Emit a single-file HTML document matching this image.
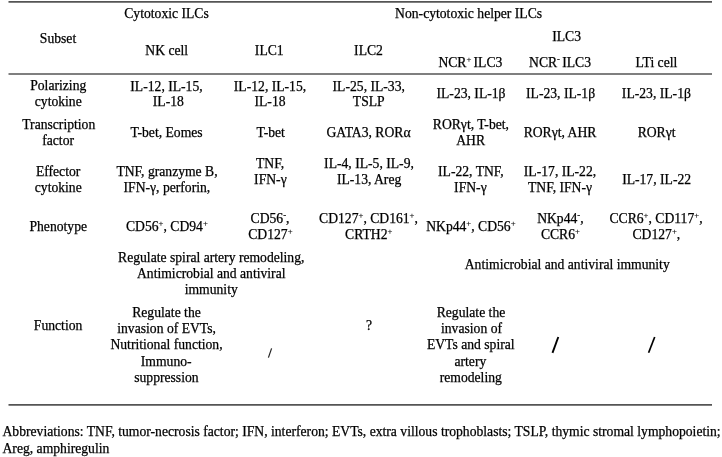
<!DOCTYPE html>
<html><head><meta charset="utf-8"><title>Table</title>
<style>
html,body{margin:0;padding:0;background:#fff;}
body{width:722px;height:457px;position:relative;overflow:hidden;font-family:"Liberation Serif",serif;font-size:13.65px;line-height:16px;color:#000;-webkit-text-stroke:0.25px #000;}
.t{position:absolute;white-space:nowrap;transform:translateX(-50%);}
.l{position:absolute;white-space:nowrap;}
.r{position:absolute;left:9px;width:703px;height:2px;background:#707070;}
sup{font-size:8.7px;line-height:0;vertical-align:baseline;position:relative;top:-5px;-webkit-text-stroke:0.15px #000;color:#000;}
#w{position:absolute;left:0;top:0;width:722px;height:457px;will-change:transform;filter:blur(0.35px);}
</style></head><body><div id="w">

<div class="t" style="left:58.00px;top:31px">Subset</div>
<div class="t" style="left:166.50px;top:6px">Cytotoxic ILCs</div>
<div class="t" style="left:166.75px;top:43px">NK cell</div>
<div class="t" style="left:269.25px;top:43px">ILC1</div>
<div class="t" style="left:368.50px;top:43px">ILC2</div>
<div class="t" style="left:468.60px;top:6px">Non-cytotoxic helper ILCs</div>
<div class="t" style="left:566.60px;top:29px">ILC3</div>
<div class="t" style="left:470.40px;top:55px">NCR<sup>+ </sup>ILC3</div>
<div class="t" style="left:560.00px;top:55px">NCR<sup>- </sup>ILC3</div>
<div class="t" style="left:656.40px;top:55px">LTi cell</div>
<div class="t" style="left:58.25px;top:78px">Polarizing</div>
<div class="t" style="left:58.25px;top:94px">cytokine</div>
<div class="t" style="left:166.50px;top:79px">IL-12, IL-15,</div>
<div class="t" style="left:168.30px;top:94px">IL-18</div>
<div class="t" style="left:270.00px;top:79px">IL-12, IL-15,</div>
<div class="t" style="left:270.00px;top:94px">IL-18</div>
<div class="t" style="left:368.75px;top:79px">IL-25, IL-33,</div>
<div class="t" style="left:368.75px;top:94px">TSLP</div>
<div class="t" style="left:471.00px;top:86px">IL-23, IL-1β</div>
<div class="t" style="left:560.60px;top:86px">IL-23, IL-1β</div>
<div class="t" style="left:656.40px;top:86px">IL-23, IL-1β</div>
<div class="t" style="left:58.75px;top:117px">Transcription</div>
<div class="t" style="left:58.10px;top:133px">factor</div>
<div class="t" style="left:166.50px;top:125px">T-bet, Eomes</div>
<div class="t" style="left:270.75px;top:125px">T-bet</div>
<div class="t" style="left:368.50px;top:125px">GATA3, RORα</div>
<div class="t" style="left:470.90px;top:117px">RORγt, T-bet,</div>
<div class="t" style="left:470.60px;top:133px">AHR</div>
<div class="t" style="left:560.00px;top:125px">RORγt, AHR</div>
<div class="t" style="left:656.60px;top:125px">RORγt</div>
<div class="t" style="left:58.10px;top:164px">Effector</div>
<div class="t" style="left:58.25px;top:180px">cytokine</div>
<div class="t" style="left:167.00px;top:164px">TNF, granzyme B,</div>
<div class="t" style="left:166.90px;top:180px">IFN-γ, perforin,</div>
<div class="t" style="left:270.00px;top:156px">TNF,</div>
<div class="t" style="left:270.40px;top:172px">IFN-γ</div>
<div class="t" style="left:369.00px;top:156px">IL-4, IL-5, IL-9,</div>
<div class="t" style="left:369.10px;top:172px">IL-13, Areg</div>
<div class="t" style="left:470.90px;top:164px">IL-22, TNF,</div>
<div class="t" style="left:470.40px;top:180px">IFN-γ</div>
<div class="t" style="left:560.00px;top:164px">IL-17, IL-22,</div>
<div class="t" style="left:560.00px;top:180px">TNF, IFN-γ</div>
<div class="t" style="left:656.60px;top:172px">IL-17, IL-22</div>
<div class="t" style="left:58.25px;top:219px">Phenotype</div>
<div class="t" style="left:166.90px;top:219px">CD56<sup>+</sup>, CD94<sup>+</sup></div>
<div class="t" style="left:270.00px;top:211px">CD56<sup>-</sup>,</div>
<div class="t" style="left:270.40px;top:227px">CD127<sup>+</sup></div>
<div class="t" style="left:368.50px;top:211px">CD127<sup>+</sup>, CD161<sup>+</sup>,</div>
<div class="t" style="left:368.75px;top:227px">CRTH2<sup>+</sup></div>
<div class="t" style="left:470.90px;top:219px">NKp44<sup>+</sup>, CD56<sup>+</sup></div>
<div class="t" style="left:560.40px;top:211px">NKp44<sup>-</sup>,</div>
<div class="t" style="left:560.40px;top:227px">CCR6<sup>+</sup></div>
<div class="t" style="left:656.00px;top:211px">CCR6<sup>+</sup>, CD117<sup>+</sup>,</div>
<div class="t" style="left:656.40px;top:227px">CD127<sup>+</sup>,</div>
<div class="t" style="left:211.25px;top:250px">Regulate spiral artery remodeling,</div>
<div class="t" style="left:211.25px;top:266px">Antimicrobial and antiviral</div>
<div class="t" style="left:211.25px;top:282px">immunity</div>
<div class="t" style="left:567.25px;top:257px">Antimicrobial and antiviral immunity</div>
<div class="t" style="left:58.10px;top:318px">Function</div>
<div class="t" style="left:166.50px;top:305px">Regulate the</div>
<div class="t" style="left:166.60px;top:321px">invasion of EVTs,</div>
<div class="t" style="left:166.50px;top:337px">Nutritional function,</div>
<div class="t" style="left:166.20px;top:354px">Immuno-</div>
<div class="t" style="left:166.40px;top:370px">suppression</div>
<div class="t" style="left:369.00px;top:318px">?</div>
<div class="t" style="left:471.00px;top:305px">Regulate the</div>
<div class="t" style="left:471.50px;top:321px">invasion of</div>
<div class="t" style="left:470.75px;top:337px">EVTs and spiral</div>
<div class="t" style="left:470.40px;top:354px">artery</div>
<div class="t" style="left:470.75px;top:370px">remodeling</div>
<div class="l" id="ab1" style="left:2.5px;top:424.00px;">Abbreviations: TNF, tumor-necrosis factor; IFN, interferon; EVTs, extra villous trophoblasts; TSLP, thymic stromal lymphopoietin;</div>
<div class="l" id="ab2" style="left:2.5px;top:441.00px;">Areg, amphiregulin</div>
<svg style="position:absolute;left:0;top:0" width="722" height="457" viewBox="0 0 722 457"><line x1="8.5" y1="1.9" x2="712" y2="1.9" stroke="#555" stroke-width="1.6"/><line x1="8.5" y1="74" x2="712" y2="74" stroke="#555" stroke-width="1.6"/><line x1="8.5" y1="404.9" x2="712" y2="404.9" stroke="#555" stroke-width="1.6"/><line x1="552.5" y1="352.8" x2="558.3" y2="337" stroke="#000" stroke-width="1.9"/><line x1="648.6" y1="352.8" x2="654.7" y2="337" stroke="#000" stroke-width="1.7"/><line x1="268.4" y1="357.6" x2="271.6" y2="348.4" stroke="#222" stroke-width="1.2"/></svg>
</div></body></html>
